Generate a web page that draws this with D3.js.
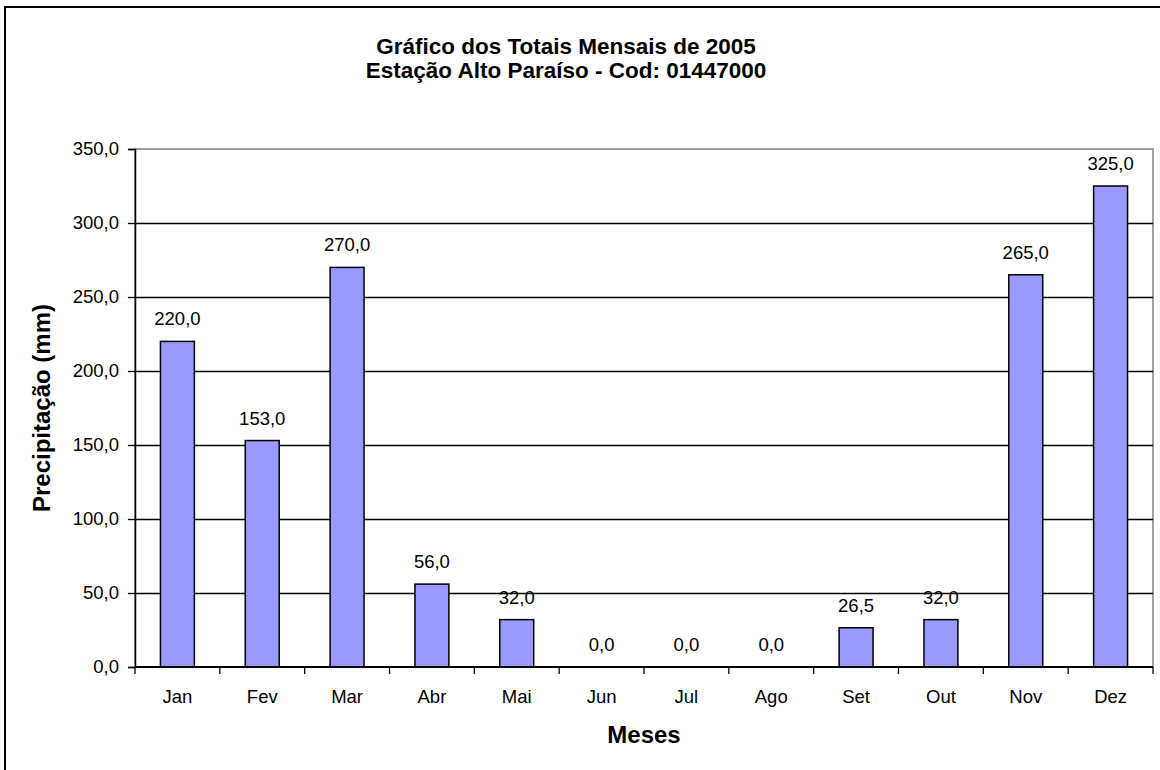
<!DOCTYPE html>
<html lang="pt">
  <head>
    <meta charset="UTF-8" />
    <title>Gráfico dos Totais Mensais de 2005</title>
    <script src="https://d3js.org/d3.v7.min.js"></script>
    <style>
      body { margin: 0; background: #fff; }
      svg { display: block; font-family: "Liberation Sans", Arial, sans-serif; }
    </style>
  </head>
  <body>
    <div id="chart-container"></div>

    <script>
      // Data
      const months = ["Jan", "Fev", "Mar", "Abr", "Mai", "Jun", "Jul", "Ago", "Set", "Out", "Nov", "Dez"];
      const rainfall = [220.0, 153.0, 270.0, 56.0, 32.0, 0.0, 0.0, 0.0, 26.5, 32.0, 265.0, 325.0];
      const yTicks = [0, 50, 100, 150, 200, 250, 300, 350];

      const W = 1160, H = 770;
      const plot = { left: 135, right: 1153, top: 149, bottom: 667 };

      const fmt = (v) => d3.format(".1f")(v).replace(".", ",");

      const svg = d3
        .select("#chart-container")
        .append("svg")
        .attr("width", W)
        .attr("height", H);

      // Outer chart border (right/bottom run off the picture)
      svg.append("rect")
        .attr("x", 5).attr("y", 7)
        .attr("width", W).attr("height", H)
        .attr("fill", "#fff")
        .attr("stroke", "#000")
        .attr("stroke-width", 2);

      // Title
      const title = svg.append("text")
        .attr("text-anchor", "middle")
        .style("font-weight", "bold")
        .style("font-size", "22.5px");
      title.append("tspan").attr("x", 566).attr("y", 54).text("Gráfico dos Totais Mensais de 2005");
      title.append("tspan").attr("x", 566).attr("y", 78).text("Estação Alto Paraíso - Cod: 01447000");

      // Scales
      const x = d3.scaleBand()
        .domain(months)
        .range([plot.left, plot.right])
        .paddingInner(0.6)
        .paddingOuter(0.3);

      const y = d3.scaleLinear()
        .domain([0, 350])
        .range([plot.bottom, plot.top]);

      // Plot area border
      svg.append("rect")
        .attr("x", plot.left).attr("y", plot.top)
        .attr("width", plot.right - plot.left)
        .attr("height", plot.bottom - plot.top)
        .attr("fill", "none")
        .attr("stroke", "#808080")
        .attr("stroke-width", 1.5);

      // Gridlines
      svg.append("g")
        .selectAll("line")
        .data(yTicks.filter((d) => d > 0 && d < 350))
        .enter()
        .append("line")
        .attr("x1", plot.left).attr("x2", plot.right)
        .attr("y1", (d) => Math.round(y(d)) + 0.5).attr("y2", (d) => Math.round(y(d)) + 0.5)
        .attr("stroke", "#000")
        .attr("stroke-width", 1.3);

      // Y axis
      const yAxis = d3.axisLeft(y)
        .tickValues(yTicks)
        .tickSize(7)
        .tickPadding(9)
        .tickFormat(fmt);
      const gy = svg.append("g")
        .attr("transform", "translate(" + plot.left + ",0)")
        .call(yAxis);
      gy.select(".domain").attr("stroke-width", 1.5);
      gy.selectAll(".tick line").attr("stroke-width", 1.3);
      gy.selectAll(".tick text")
        .style("font-size", "18.5px")
        .style("font-family", "Liberation Sans, Arial, sans-serif")
        .attr("fill", "#000");

      // X axis (ticks between categories)
      const gap = (x.step() - x.bandwidth()) / 2;
      const bounds = months.map((m) => x(m) - gap).concat([plot.right]);
      svg.append("g")
        .selectAll("line")
        .data(bounds)
        .enter()
        .append("line")
        .attr("x1", (d) => d).attr("x2", (d) => d)
        .attr("y1", plot.bottom).attr("y2", plot.bottom + 7)
        .attr("stroke", "#000")
        .attr("stroke-width", 1.3);

      svg.append("g")
        .selectAll("text")
        .data(months)
        .enter()
        .append("text")
        .attr("x", (d) => x(d) + x.bandwidth() / 2)
        .attr("y", plot.bottom + 36)
        .attr("text-anchor", "middle")
        .style("font-size", "18.5px")
        .text((d) => d);

      // Bars
      svg.append("g")
        .selectAll("rect")
        .data(rainfall)
        .enter()
        .append("rect")
        .attr("x", (d, i) => x(months[i]))
        .attr("y", (d) => y(d))
        .attr("width", x.bandwidth())
        .attr("height", (d) => y(0) - y(d))
        .attr("fill", "#9999ff")
        .attr("stroke", (d) => (d > 0 ? "#000" : "none"))
        .attr("stroke-width", 1.5);

      // Bottom axis line
      svg.append("line")
        .attr("x1", plot.left).attr("x2", plot.right)
        .attr("y1", plot.bottom).attr("y2", plot.bottom)
        .attr("stroke", "#000")
        .attr("stroke-width", 2);

      // Value labels
      svg.append("g")
        .selectAll("text")
        .data(rainfall)
        .enter()
        .append("text")
        .attr("x", (d, i) => x(months[i]) + x.bandwidth() / 2)
        .attr("y", (d) => y(d) - 16)
        .attr("text-anchor", "middle")
        .style("font-size", "18.5px")
        .text((d) => fmt(d));

      // Axis titles
      svg.append("text")
        .attr("x", (plot.left + plot.right) / 2)
        .attr("y", 743)
        .attr("text-anchor", "middle")
        .style("font-weight", "bold")
        .style("font-size", "24px")
        .text("Meses");

      svg.append("text")
        .attr("transform", "translate(50," + (plot.top + plot.bottom) / 2 + ") rotate(-90)")
        .attr("text-anchor", "middle")
        .style("font-weight", "bold")
        .style("font-size", "24px")
        .text("Precipitação (mm)");
    </script>
  </body>
</html>
